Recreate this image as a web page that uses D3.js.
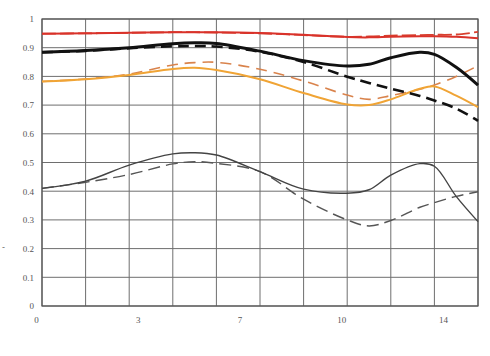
<!DOCTYPE html>
<html><head><meta charset="utf-8">
<script src="https://cdn.jsdelivr.net/npm/d3@7/dist/d3.min.js"></script>
<style>html,body{margin:0;padding:0;background:#fff;}svg{display:block;}</style>
</head><body>
<svg id="chart" width="490" height="356"></svg>
<script>
// ---- data ----
const xs = [0, 1.5, 3, 4.5, 5.25, 6, 7.5, 9, 10.5, 11.25, 12, 13, 13.5, 14.25, 15];
const redSolid    = [0.949,0.950,0.952,0.954,0.954,0.954,0.951,0.945,0.937,0.936,0.938,0.940,0.940,0.938,0.933];
const redDashed   = [0.949,0.950,0.952,0.954,0.954,0.953,0.950,0.944,0.938,0.939,0.942,0.944,0.945,0.946,0.955];
const blackSolid  = [0.884,0.890,0.900,0.914,0.917,0.915,0.888,0.855,0.836,0.842,0.865,0.884,0.877,0.832,0.770];
const blackDashed = [0.884,0.889,0.898,0.905,0.906,0.904,0.886,0.850,0.799,0.777,0.757,0.732,0.716,0.688,0.645];
const orangeSolid = [0.782,0.790,0.805,0.826,0.830,0.822,0.790,0.742,0.702,0.700,0.720,0.757,0.765,0.733,0.693];
const orangeDashed= [0.782,0.791,0.808,0.840,0.848,0.849,0.825,0.784,0.735,0.720,0.733,0.755,0.770,0.800,0.837];
const graySolid   = [0.410,0.435,0.491,0.530,0.534,0.526,0.468,0.407,0.393,0.405,0.456,0.496,0.487,0.382,0.294];
const grayDashed  = [0.410,0.431,0.458,0.495,0.503,0.497,0.468,0.372,0.300,0.279,0.298,0.344,0.360,0.382,0.398];

const xTickValues = [0, 3.5, 7, 10.5, 14];
const xTickLabels = ["0", "3", "7", "10", "14"];
const yTickValues = [0, 0.1, 0.2, 0.3, 0.4, 0.5, 0.6, 0.7, 0.8, 0.9, 1];
const yTickLabels = ["0", "0.1", "0.2", "0.3", "0.4", "0.5", "0.6", "0.7", "0.8", "0.9", "1"];
const xGrid = [0, 1.5, 3, 4.5, 6, 7.5, 9, 10.5, 12, 13.5, 15];

// ---- layout ----
const svg = d3.select("#chart");
const L = 42, R = 478, T = 19, B = 306;
const x = d3.scaleLinear().domain([0, 15]).range([L, R]);
const y = d3.scaleLinear().domain([0, 1]).range([B, T]);

svg.append("rect").attr("width", 490).attr("height", 356).attr("fill", "#fff");

// grid
const g = svg.append("g");
g.selectAll("line.v").data(xGrid).join("line")
  .attr("x1", d => x(d)).attr("x2", d => x(d)).attr("y1", T).attr("y2", B)
  .attr("stroke", "#6e6e6e").attr("stroke-width", 1);
g.selectAll("line.h").data(yTickValues).join("line")
  .attr("x1", L).attr("x2", R).attr("y1", d => y(d)).attr("y2", d => y(d))
  .attr("stroke", "#6e6e6e").attr("stroke-width", 1);
svg.append("rect").attr("x", L).attr("y", T).attr("width", R - L).attr("height", B - T)
  .attr("fill", "none").attr("stroke", "#555").attr("stroke-width", 1.2);

// axes labels
const yAxis = d3.axisLeft(y).tickValues(yTickValues).tickSize(0).tickPadding(8)
  .tickFormat((d, i) => yTickLabels[i]);
const ya = svg.append("g").attr("transform", `translate(${L},0)`).call(yAxis);
ya.select(".domain").remove();
ya.selectAll("text").attr("font-family", "Liberation Serif, serif").attr("font-size", 9).attr("fill", "#555");

const xAxis = d3.axisBottom(x).tickValues(xTickValues).tickSize(0).tickPadding(11)
  .tickFormat((d, i) => xTickLabels[i]);
const xa = svg.append("g").attr("transform", `translate(-6,${B})`).call(xAxis);
xa.select(".domain").remove();
xa.selectAll("text").attr("font-family", "Liberation Serif, serif").attr("font-size", 9).attr("fill", "#555");

svg.append("text").attr("x", 2).attr("y", 250).attr("font-size", 9).attr("fill", "#666")
  .attr("font-family", "Liberation Sans, sans-serif").text("-");

// curves
const line = d3.line().x((d, i) => x(xs[i])).y(d => y(d)).curve(d3.curveCatmullRom.alpha(0.5));
const series = [
  {v: grayDashed,   c: "#555",    w: 1.4, dash: "12,6"},
  {v: graySolid,    c: "#444",    w: 1.4, dash: null},
  {v: orangeDashed, c: "#d9834c", w: 1.6, dash: "11,7"},
  {v: orangeSolid,  c: "#f0a435", w: 2.0, dash: null},
  {v: blackDashed,  c: "#111",    w: 2.6, dash: "11,6"},
  {v: blackSolid,   c: "#111",    w: 3.0, dash: null},
  {v: redDashed,    c: "#d8402e", w: 1.8, dash: "14,4"},
  {v: redSolid,     c: "#d9322a", w: 2.0, dash: null}
];
svg.append("g").selectAll("path").data(series).join("path")
  .attr("d", d => line(d.v))
  .attr("fill", "none")
  .attr("stroke", d => d.c)
  .attr("stroke-width", d => d.w)
  .attr("stroke-dasharray", d => d.dash)
  .attr("stroke-linejoin", "round");
</script>
</body></html>
